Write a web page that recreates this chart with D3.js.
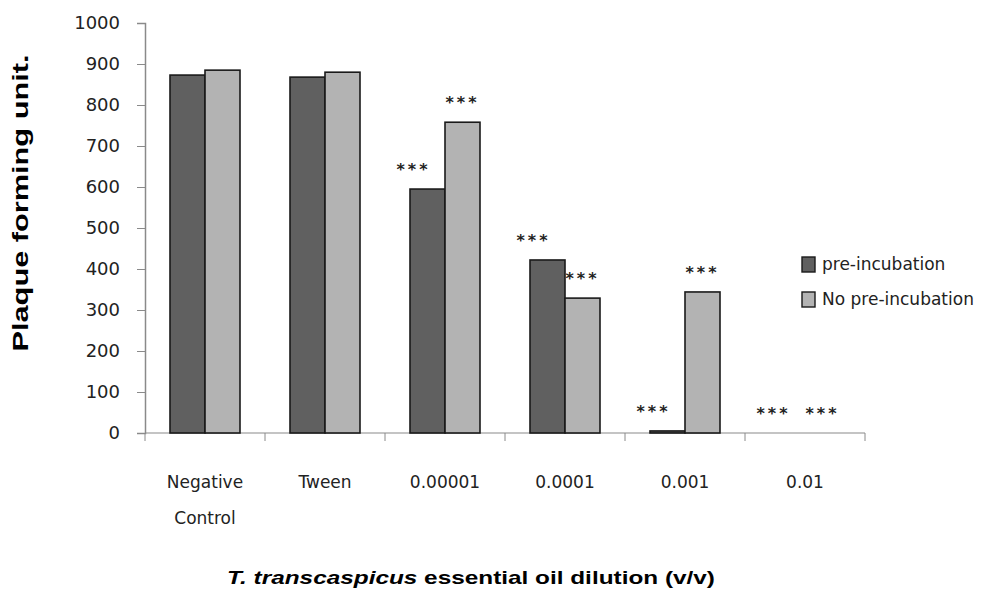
<!DOCTYPE html>
<html>
<head>
<meta charset="utf-8">
<script src="https://cdn.jsdelivr.net/npm/d3@7"></script>
<style>
  body { margin: 0; background: #fff; }
  svg { display: block; font-family: "DejaVu Sans", sans-serif; }
</style>
</head>
<body>
<svg id="chart" width="1006" height="595"></svg>
<script>
// chart data
const categories = ["Negative Control", "Tween", "0.00001", "0.0001", "0.001", "0.01"];
const seriesNames = ["pre-incubation", "No pre-incubation"];
const preIncubation = [873, 868, 595, 422, 5, 0];
const noPreIncubation = [885, 880, 758, 329, 344, 0];
const preMarks = ["", "", "***", "***", "***", "***"];
const noPreMarks = ["", "", "***", "***", "***", "***"];
const yTicks = [0, 100, 200, 300, 400, 500, 600, 700, 800, 900, 1000];

const colors = ["#606060", "#b3b3b3"];
const svg = d3.select("#chart");

const plotLeft = 145, plotRight = 865, plotTop = 23, plotBottom = 433;

const x = d3.scaleBand().domain(categories).range([plotLeft, plotRight]);
const xs = d3.scaleBand().domain(seriesNames).range([0, 70]);
const y = d3.scaleLinear().domain([0, 1000]).range([plotBottom, plotTop]);

// y axis
const yAxis = svg.append("g")
  .attr("transform", `translate(${plotLeft},0)`)
  .call(d3.axisLeft(y).tickValues(yTicks).tickSize(8).tickPadding(17).tickFormat(d3.format("d")));
yAxis.select(".domain").attr("stroke", "#8a8a8a").attr("stroke-width", 1.5);
yAxis.selectAll(".tick line").attr("stroke", "#8a8a8a");
yAxis.selectAll(".tick text").attr("font-size", 18).attr("fill", "#222")
  .attr("font-family", "DejaVu Sans");

// x axis line and ticks between groups
const xAxis = svg.append("g").attr("transform", `translate(0,${plotBottom})`);
xAxis.append("line").attr("x1", plotLeft).attr("x2", plotRight)
  .attr("stroke", "#8a8a8a").attr("stroke-width", 1.2);
xAxis.selectAll("line.tk").data(categories.concat(["end"]))
  .enter().append("line").attr("class", "tk")
  .attr("x1", (d, i) => i < categories.length ? x(d) : plotRight)
  .attr("x2", (d, i) => i < categories.length ? x(d) : plotRight)
  .attr("y1", 0).attr("y2", 8).attr("stroke", "#8a8a8a");

// category labels
const labels = svg.append("g").selectAll("text").data(categories).enter().append("text")
  .attr("text-anchor", "middle").attr("font-size", 17).attr("fill", "#222")
  .attr("x", d => x(d) + x.bandwidth() / 2)
  .attr("y", 488);
labels.each(function(d) {
  const words = d === "Negative Control" ? ["Negative", "Control"] : [d];
  d3.select(this).selectAll("tspan").data(words).enter().append("tspan")
    .attr("x", x(d) + x.bandwidth() / 2)
    .attr("dy", (w, i) => i === 0 ? 0 : 36)
    .text(w => w);
});

// bars
const series = [preIncubation, noPreIncubation];
const marks = [preMarks, noPreMarks];
const groupOff = (x.bandwidth() - 70) / 2;
series.forEach((vals, s) => {
  svg.append("g").selectAll("rect").data(vals).enter().append("rect")
    .attr("x", (d, i) => x(categories[i]) + groupOff + xs(seriesNames[s]))
    .attr("y", d => y(d))
    .attr("width", xs.bandwidth())
    .attr("height", d => plotBottom - y(d))
    .attr("fill", colors[s])
    .attr("stroke", "#1a1a1a")
    .attr("stroke-width", 1.6);
});

// significance marks
series.forEach((vals, s) => {
  svg.append("g").selectAll("text").data(vals).enter().append("text")
    .attr("text-anchor", "middle").attr("font-size", 16).attr("font-weight", "bold")
    .attr("letter-spacing", 3).attr("fill", "#222")
    .attr("x", (d, i) => x(categories[i]) + groupOff + xs(seriesNames[s]) + xs.bandwidth() / 2 + (s === 0 ? -14 : 0))
    .attr("y", d => y(d) - 14)
    .text((d, i) => marks[s][i]);
});

// legend
const legend = svg.append("g").attr("transform", "translate(802,257)");
seriesNames.forEach((n, i) => {
  legend.append("rect").attr("x", 0).attr("y", i * 35).attr("width", 13).attr("height", 15)
    .attr("fill", colors[i]).attr("stroke", "#1a1a1a").attr("stroke-width", 1.4);
  legend.append("text").attr("x", 20).attr("y", i * 35 + 13).attr("font-size", 17)
    .attr("fill", "#222").text(n);
});

// axis titles
svg.append("text")
  .attr("transform", "translate(28,203) rotate(-90)")
  .attr("text-anchor", "middle").attr("font-size", 22).attr("font-weight", "bold")
  .attr("font-family", "Liberation Sans, Arial, sans-serif")
  .attr("textLength", 297).attr("lengthAdjust", "spacingAndGlyphs")
  .text("Plaque forming unit.");

const xt = svg.append("text")
  .attr("x", 227).attr("y", 584).attr("font-size", 19).attr("font-weight", "bold")
  .attr("font-family", "Liberation Sans, Arial, sans-serif")
  .attr("textLength", 488).attr("lengthAdjust", "spacingAndGlyphs");
xt.append("tspan").attr("font-style", "italic").text("T. transcaspicus");
xt.append("tspan").text(" essential oil dilution (v/v)");
</script>
</body>
</html>
